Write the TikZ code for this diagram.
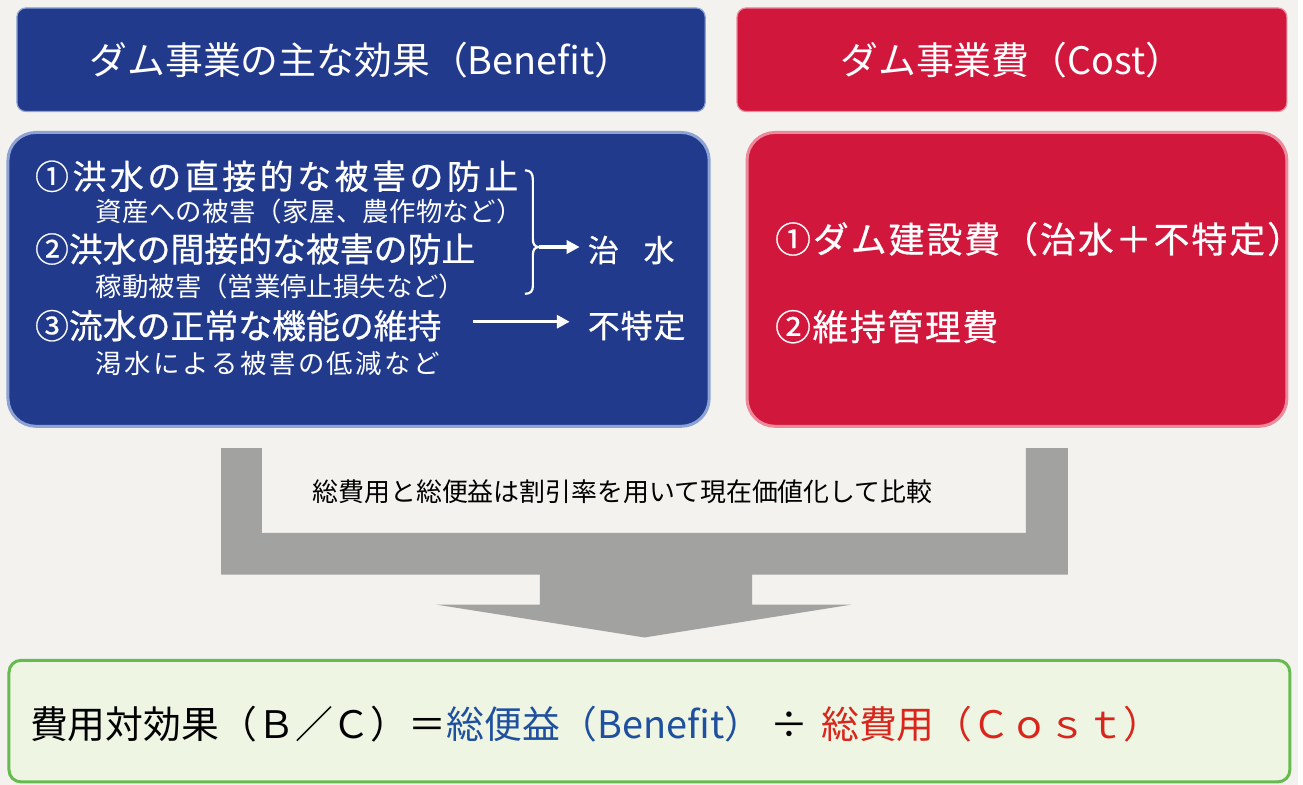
\documentclass[tikz,border=0pt]{standalone}
\usepackage{fontspec}
\setmainfont{Noto Sans CJK JP}
\newfontfamily\jpbold[FakeBold=0.6]{Noto Sans CJK JP}
\usetikzlibrary{arrows.meta}
\ExplSyntaxOn
\NewDocumentCommand\sptext{m m}{\tl_map_inline:nn {#2}{##1\hspace{#1}}\unskip}
\ExplSyntaxOff
\newcommand\fs[1]{\fontsize{#1}{#1}\selectfont}
\definecolor{bgcol}{HTML}{F3F2EE}
\definecolor{navy}{HTML}{223A8C}
\definecolor{navyedge}{HTML}{8DA3D6}
\definecolor{crimson}{HTML}{D2173C}
\definecolor{crimsonedge}{HTML}{EC8A9C}
\definecolor{arrowgray}{HTML}{A2A2A0}
\definecolor{gborder}{HTML}{66BB4F}
\definecolor{gfill}{HTML}{EEF5E3}
\definecolor{fblue}{HTML}{1F4F9F}
\definecolor{fred}{HTML}{D8261C}
\begin{document}
\begin{tikzpicture}[x=1pt,y=-1pt,
  wtxt/.style={inner sep=0pt,text=white,anchor=west},
  headbox/.style={rounded corners=9pt,inner sep=0pt,line width=1.2pt,text=white},
  bodybox/.style={rounded corners=28pt,inner sep=0pt,line width=3pt},
  warrow/.style={draw=white,line width=3.5pt,-{Triangle[length=13pt,width=13pt]}},
  bracestyle/.style={draw=white,line width=2.2pt}
]
\fill[bgcol] (0,0) rectangle (1303,788);

% headers
\node[headbox,fill=navy,draw=navyedge,minimum width=691pt,minimum height=104pt] (bhead) at (362.5,60) {\fs{38}ダム事業の主な効果（Benefit）};
\node[headbox,fill=crimson,draw=crimsonedge,minimum width=552pt,minimum height=104pt] (rhead) at (1016,60) {\fs{38}ダム事業費（Cost）};

% bodies
\node[bodybox,fill=navy,draw=navyedge,minimum width=704pt,minimum height=295pt] (bbody) at (360,280.5) {};
\node[bodybox,fill=crimson,draw=crimsonedge,minimum width=542pt,minimum height=295pt] (rbody) at (1021,280.5) {};

% blue body text
\node[wtxt] (l1) at (35,177) {\jpbold\fs{34}\sptext{3.6pt}{①洪水の直接的な被害の防止}};
\node[wtxt] (l2) at (96,212) {\fs{26.5}\sptext{0.3pt}{資産への被害（家屋、農作物など）}};
\node[wtxt] (l3) at (35,250) {\jpbold\fs{34}②洪水の間接的な被害の防止};
\node[wtxt] (l4) at (96,288) {\fs{26.5}稼動被害（営業停止損失など）};
\node[wtxt] (l5) at (35,327) {\jpbold\fs{34}③流水の正常な機能の維持};
\node[wtxt] (l6) at (96,365) {\fs{26.5}\sptext{2.5pt}{渇水による被害の低減など}};

\node[wtxt] (chisui) at (590,251) {\jpbold\fs{31}治\hspace{25pt}水};
\node[wtxt] (futo) at (590,327) {\jpbold\fs{32}\sptext{1pt}{不特定}};

% brace and arrows
\coordinate (cusp) at (541,248);
\draw[bracestyle] (527,171) .. controls (533,171) and (535,174) .. (535,181) -- (535,240)
  .. controls (535,245) and (537,248) .. (cusp)
  .. controls (537,248) and (535,251) .. (535,256) -- (535,287)
  .. controls (535,292) and (533,295) .. (527,295);
\draw[warrow,shorten >=8pt] (cusp) -- (cusp -| chisui.west);
\coordinate (a2s) at (475,323);
\draw[warrow,shorten >=18pt] (a2s) -- (a2s -| futo.west);

% red body text
\node[wtxt] (r1) at (778,240) {\jpbold\fs{36}\sptext{2pt}{①ダム建設費（治水＋不特定）}};
\node[wtxt] (r2) at (778,328) {\jpbold\fs{36}\sptext{1.6pt}{②維持管理費}};

% gray merging arrow
\fill[arrowgray] (222,450) -- (263,450) -- (263,535) -- (1030,535) -- (1030,450) -- (1072,450)
  -- (1072,577) -- (755,577) -- (755,607) -- (855,607) -- (647,640) -- (438,607)
  -- (542,607) -- (542,577) -- (222,577) -- cycle;
\node[inner sep=0pt] (note) at (625,494) {\fs{26}総費用と総便益は割引率を用いて現在価値化して比較};

% result box
\node[draw=gborder,fill=gfill,line width=3pt,rounded corners=12pt,inner sep=0pt,
  minimum width=1286pt,minimum height=122pt] (res) at (652,724) {};
\node[inner sep=0pt,anchor=west] (formula) at (30,727) {\fs{38}費用対効果（Ｂ／Ｃ）＝\textcolor{fblue}{総便益（Benefit）}\hspace{0.2em}÷\hspace{0.35em}\textcolor{fred}{総費用（Ｃｏｓｔ）}};
\end{tikzpicture}
\end{document}
